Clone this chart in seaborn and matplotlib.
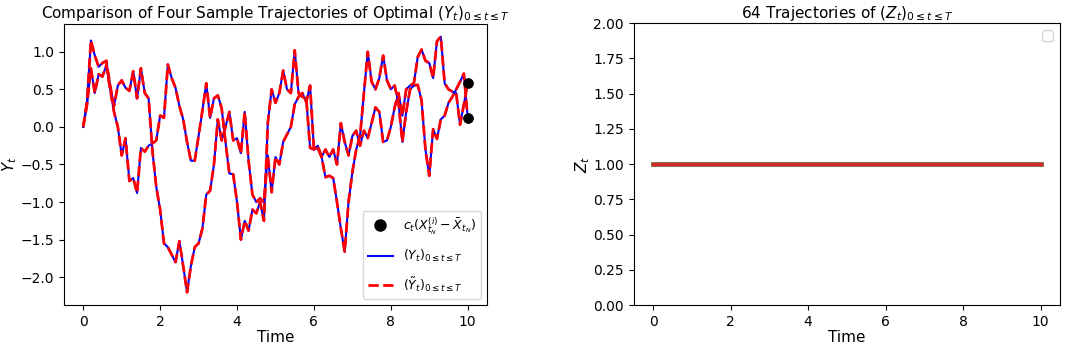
import numpy as np
import pandas as pd
import matplotlib
matplotlib.use("Agg")
import matplotlib.pyplot as plt
from matplotlib.lines import Line2D
import seaborn as sns

# time grid, dt = 0.1
time = np.linspace(0, 10, 101)

# two visible sample paths (Y and Y-tilde coincide)
path_a = [0.00, 0.35, 1.15, 0.95, 0.80, 0.85, 0.88, 0.55, 0.28, 0.55,
          0.62, 0.52, 0.48, 0.74, 0.38, 0.78, 0.45, 0.38, -0.32, -0.80,
          -1.10, -1.55, -1.60, -1.70, -1.80, -1.52, -1.85, -2.20, -1.85, -1.60,
          -1.55, -1.35, -0.90, -0.85, -0.50, 0.10, -0.18, 0.00, 0.20, -0.18,
          -0.15, -0.35, 0.20, -0.45, -0.90, -1.00, -0.95, -1.00, -0.38, -0.87,
          -0.40, -0.50, -0.20, -0.10, 0.00, 0.30, 0.40, 0.45, 0.33, 0.55,
          -0.30, -0.28, -0.40, -0.30, -0.40, -0.30, -0.50, 0.05, -0.20, -0.38,
          -0.12, -0.05, -0.25, -0.05, -0.15, 0.05, 0.26, 0.20, -0.20, -0.18,
          0.00, 0.26, 0.45, 0.15, 0.50, 0.55, 0.58, 0.93, 1.03, 0.88,
          0.85, 0.65, 1.14, 1.20, 0.58, 0.50, 0.47, 0.45, 0.03, 0.30,
          0.58]
path_b = [0.00, 0.30, 0.78, 0.45, 0.70, 0.67, 0.82, 0.50, 0.20, 0.00,
          -0.38, -0.15, -0.72, -0.68, -0.88, -0.28, -0.33, -0.25, -0.22, -0.18,
          0.15, 0.12, 0.83, 0.65, 0.52, 0.28, 0.10, -0.20, -0.45, -0.45,
          -0.12, 0.22, 0.58, 0.12, 0.38, 0.42, 0.25, -0.20, -0.62, -0.63,
          -1.00, -1.50, -1.25, -1.38, -1.10, -1.15, -1.00, -1.25, 0.05, 0.50,
          0.32, 0.45, 0.75, 0.50, 0.45, 1.02, 0.45, 0.40, 0.38, -0.28,
          -0.30, -0.25, -0.40, -0.67, -0.65, -0.68, -1.00, -1.35, -1.66, -1.00,
          -0.60, -0.30, -0.12, 0.45, 1.00, 0.60, 0.50, 0.65, 0.95, 0.62,
          0.50, 0.55, 0.32, -0.20, 0.20, 0.50, 0.55, 0.56, 0.35, -0.30,
          -0.65, -0.03, -0.16, 0.10, 0.15, 0.32, 0.40, 0.50, 0.60, 0.71,
          0.12]

# terminal values c_t(X - Xbar)
end_times = [10, 10]
end_values = [0.58, 0.12]

# Z trajectories are all flat at 1
z_level = 1.0
n_z_paths = 64

df = pd.DataFrame({
    'Time': np.tile(time, 2),
    'Y': path_a + path_b,
    'path': ['a'] * len(time) + ['b'] * len(time),
})

fig = plt.figure(figsize=(10.74, 3.47), dpi=100)
ax1 = fig.add_axes([0.0596, 0.121, 0.3938, 0.810])
ax2 = fig.add_axes([0.590, 0.121, 0.397, 0.812])

# left panel
sns.lineplot(data=df, x='Time', y='Y', units='path', estimator=None,
             color='blue', lw=1.5, ax=ax1)
sns.lineplot(data=df, x='Time', y='Y', units='path', estimator=None,
             color='red', lw=2, linestyle='--', ax=ax1)
sns.scatterplot(x=end_times, y=end_values, color='black', s=50,
                edgecolor='black', zorder=3, ax=ax1)

handles = [
    Line2D([], [], marker='o', color='black', linestyle='none', markersize=8),
    Line2D([], [], color='blue', lw=1.5),
    Line2D([], [], color='red', lw=2, linestyle='--'),
]
labels = [r'$c_t(X^{(i)}_{t_N} - \bar{X}_{t_N})$',
          r'$(Y_t)_{0 \leq t \leq T}$',
          r'$(\tilde{Y}_t)_{0 \leq t \leq T}$']
ax1.legend(handles, labels, loc='lower right', labelspacing=0.9, fontsize=9)
ax1.set_title(r'Comparison of Four Sample Trajectories of Optimal $(Y_t)_{0 \leq t \leq T}$',
              fontsize=11, pad=4)
ax1.set_xlabel('Time', fontsize=11, labelpad=1)
ax1.set_ylabel(r'$Y_t$', fontsize=11, labelpad=1)
ax1.set_xticks([0, 2, 4, 6, 8, 10])

# right panel
for i in range(n_z_paths):
    sns.lineplot(x=time, y=[z_level] * len(time), lw=2.5, ax=ax2)
ax2.set_ylim(0, 2)
ax2.set_yticks(np.arange(0, 2.01, 0.25))
ax2.set_xticks([0, 2, 4, 6, 8, 10])
ax2.set_title(r'64 Trajectories of $(Z_t)_{0 \leq t \leq T}$', fontsize=11, pad=4)
ax2.set_xlabel('Time', fontsize=11, labelpad=1)
ax2.set_ylabel(r'$Z_t$', fontsize=11, labelpad=1)
ax2.legend(loc='upper right')

plt.savefig('out.png', dpi=100)
